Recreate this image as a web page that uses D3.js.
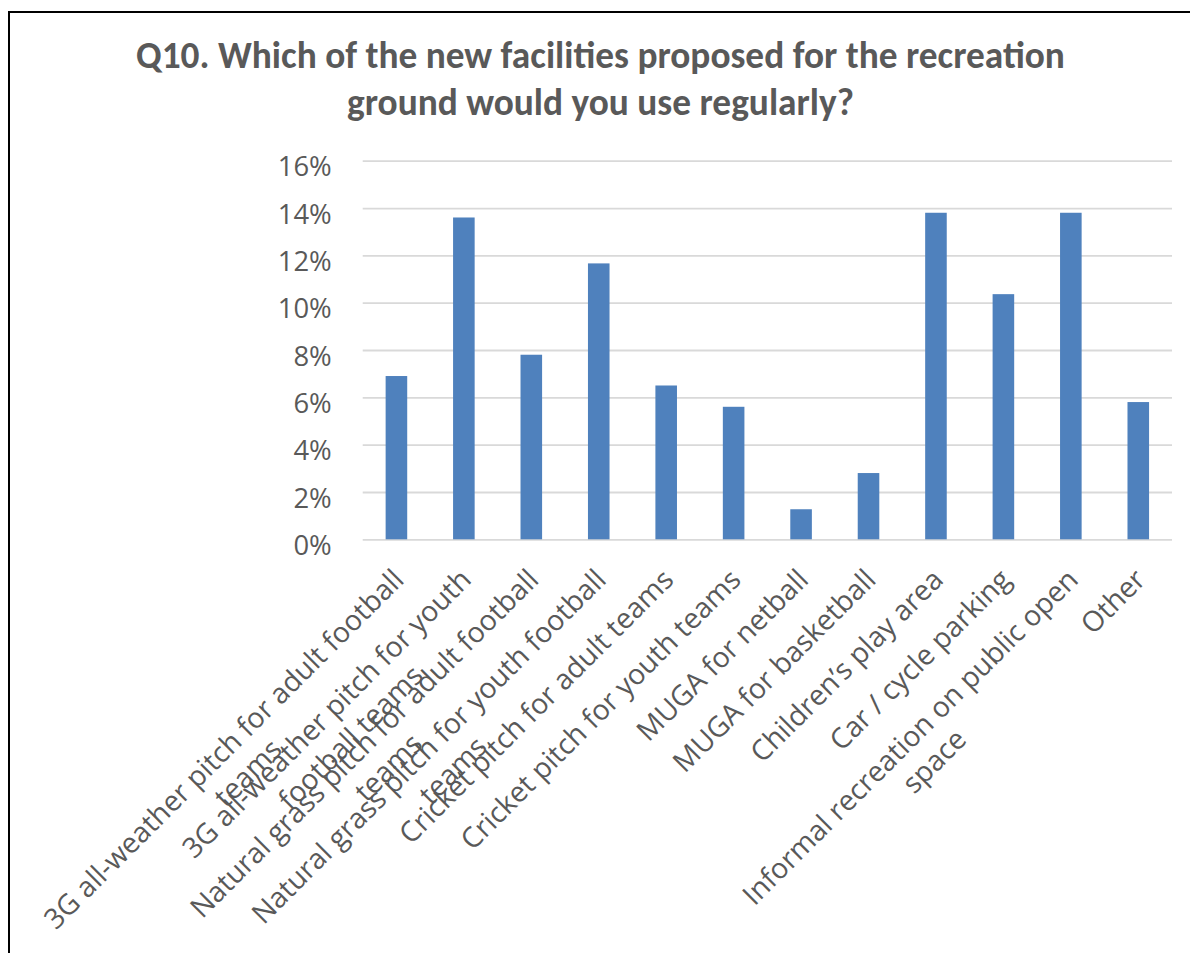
<!DOCTYPE html>
<html><head><meta charset="utf-8">
<script src="https://cdn.jsdelivr.net/npm/d3@7"></script>
<style>body{margin:0;background:#fff} svg{display:block}</style>
</head><body>
<svg id="c" width="1190" height="953"></svg>
<script>
// ---- data ----
const titleLines = ["Q10. Which of the new facilities proposed for the recreation", "ground would you use regularly?"];
const categories = [
  "3G all-weather pitch for adult football teams",
  "3G all-weather pitch for youth football teams",
  "Natural grass pitch for adult football teams",
  "Natural grass pitch for youth football teams",
  "Cricket pitch for adult teams",
  "Cricket pitch for youth teams",
  "MUGA for netball",
  "MUGA for basketball",
  "Children’s play area",
  "Car / cycle parking",
  "Informal recreation on public open space",
  "Other"
];
const categoryLines = [
  ["3G all-weather pitch for adult football", "teams"],
  ["3G all-weather pitch for youth", "football teams"],
  ["Natural grass pitch for adult football", "teams"],
  ["Natural grass pitch for youth football", "teams"],
  ["Cricket pitch for adult teams"],
  ["Cricket pitch for youth teams"],
  ["MUGA for netball"],
  ["MUGA for basketball"],
  ["Children’s play area"],
  ["Car / cycle parking"],
  ["Informal recreation on public open", "space"],
  ["Other"]
];
const values = [0.069, 0.136, 0.078, 0.1166, 0.065, 0.056, 0.0127, 0.028, 0.138, 0.1036, 0.138, 0.058];
const yTicks = [0, 0.02, 0.04, 0.06, 0.08, 0.10, 0.12, 0.14, 0.16];

// ---- styles ----
const TITLE_FONT = "Carlito, Lato, 'Open Sans', sans-serif";
const FONT = "'Open Sans', 'Noto Sans', sans-serif";
const TEXT = "#595959";
const BAR = "#4F81BD";
const GRID = "#D9D9D9";

const svg = d3.select("#c");

function fit(str, family, weight, target) {
  const t = svg.append("text").attr("font-family", family).attr("font-weight", weight)
    .attr("font-size", 100).text(str);
  const w = t.node().getComputedTextLength();
  t.remove();
  return 100 * target / w;
}
const titleSize = fit(titleLines[0], TITLE_FONT, "bold", 929);
const tickSize = fit("16%", FONT, "normal", 54);
const labelSize = fit("Cricket pitch for youth teams", FONT, "normal", 382);

// frame
svg.append("rect").attr("x", 9).attr("y", 12).attr("width", 1200).attr("height", 1000)
  .attr("fill", "none").attr("stroke", "#000").attr("stroke-width", 2);

// title
svg.append("g").selectAll("text").data(titleLines).join("text")
  .attr("x", 600.5).attr("y", (d, i) => 68 + i * 47)
  .attr("text-anchor", "middle").attr("font-family", TITLE_FONT).attr("font-weight", "bold")
  .attr("font-size", titleSize).attr("fill", TEXT).text(d => d);

const x = d3.scaleBand().domain(categories).range([362.7, 1172]).paddingInner(0.68).paddingOuter(0.34);
const y = d3.scaleLinear().domain([0, 0.16]).range([539.3, 160.7]);

// gridlines + y labels
const yAxis = svg.append("g").attr("transform", "translate(362.7,0)")
  .call(d3.axisLeft(y).tickValues(yTicks).tickFormat(d3.format(".0%")).tickSize(-(1172 - 362.7)).tickPadding(31));
yAxis.select(".domain").remove();
yAxis.selectAll(".tick line").attr("stroke", GRID).attr("stroke-width", 1.8);
yAxis.selectAll(".tick text").attr("fill", TEXT).attr("font-family", FONT)
  .attr("font-size", tickSize).attr("dy", "0.55em");

// bars
svg.append("g").selectAll("rect").data(values).join("rect")
  .attr("x", (d, i) => x(categories[i]))
  .attr("width", x.bandwidth())
  .attr("y", d => y(d))
  .attr("height", d => y(0) - y(d))
  .attr("fill", BAR);

// category labels
const lh = labelSize * 1.2;
const lg = svg.append("g").selectAll("g").data(categories).join("g")
  .attr("transform", d => `translate(${x(d) + x.bandwidth() / 2 + 2},${y(0) + 35}) rotate(-45)`);
lg.each(function (d, i) {
  const g = d3.select(this);
  const lines = categoryLines[i];
  const texts = lines.map((s, k) => g.append("text").attr("font-family", FONT)
    .attr("font-size", labelSize).attr("fill", TEXT).attr("dy", "0.35em").text(s));
  const W = d3.max(texts, t => t.node().getComputedTextLength());
  texts.forEach((t, k) => {
    if (lines.length === 1) { t.attr("text-anchor", "end").attr("x", 0).attr("y", 0); }
    else { t.attr("text-anchor", "middle").attr("x", -W / 2).attr("y", k * lh); }
  });
});
</script>
</body></html>
